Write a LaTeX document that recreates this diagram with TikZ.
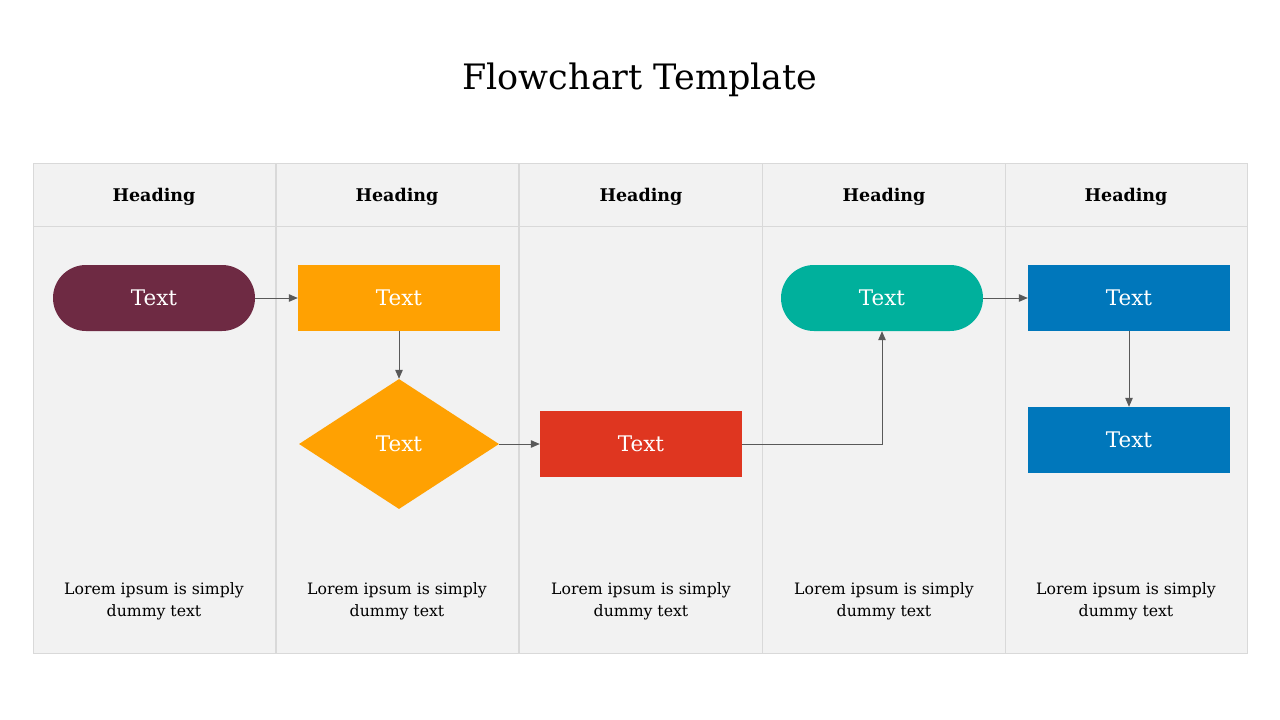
\documentclass[tikz,border=0pt]{standalone}
\usepackage{fontspec}
\setmainfont{DejaVu Serif}
\usetikzlibrary{shapes.geometric,arrows.meta}
\definecolor{cellbg}{HTML}{F2F2F2}
\definecolor{cellline}{HTML}{D9D9D9}
\definecolor{cmaroon}{HTML}{6E2A43}
\definecolor{corange}{HTML}{FFA102}
\definecolor{cred}{HTML}{DF3620}
\definecolor{cteal}{HTML}{00B09C}
\definecolor{cblue}{HTML}{0077BB}
\definecolor{arr}{HTML}{595959}
\tikzset{
  shp/.style={minimum width=202pt, minimum height=66pt, inner sep=0pt, text=white, font=\fontsize{21.5}{24}\selectfont},
  pill/.style={shp, rounded corners=33pt},
  box/.style={shp},
  dia/.style={shp, diamond, minimum width=200pt, minimum height=130pt},
  head/.style={font=\bfseries\fontsize{17.5}{20}\selectfont},
  lorem/.style={font=\fontsize{15.7}{22}\selectfont, align=center},
  conn/.style={draw=arr, line width=1pt, -{Triangle[length=9pt,width=7.5pt]}},
}
\begin{document}
\begin{tikzpicture}[x=1pt,y=-1pt]
\useasboundingbox (0,0) rectangle (1280,720);
\fill[white] (0,0) rectangle (1280,720);
\node[font=\fontsize{35}{40}\selectfont] (title) at (640,80) {Flowchart Template};
% table
\fill[cellbg] (33,163) rectangle (1247,653);
\draw[cellline, line width=1pt] (33,163) rectangle (1247,653);
\draw[cellline, line width=1pt] (33,226) -- (1247,226);
\draw[cellline, line width=2.5pt] (276,163) -- (276,653);
\draw[cellline, line width=2.5pt] (519,163) -- (519,653);
\draw[cellline, line width=1pt] (762,163) -- (762,653);
\draw[cellline, line width=1pt] (1005,163) -- (1005,653);
\node[head] (h1) at (154,197) {Heading};
\node[head] (h2) at (397,197) {Heading};
\node[head] (h3) at (641,197) {Heading};
\node[head] (h4) at (884,197) {Heading};
\node[head] (h5) at (1126,197) {Heading};
% shapes
\node[pill, fill=cmaroon] (a) at (154,298) {Text};
\node[box, fill=corange] (b) at (399,298) {Text};
\node[dia, fill=corange] (c) at (399,444) {Text};
\node[box, fill=cred] (d) at (641,444) {Text};
\node[pill, fill=cteal] (e) at (882,298) {Text};
\node[box, fill=cblue] (f) at (1129,298) {Text};
\node[box, fill=cblue] (g) at (1129,440) {Text};
% connectors
\draw[conn] (a) -- (b);
\draw[conn] (b) -- (c);
\draw[conn] (c) -- (d);
\draw[conn] (d.east) -| (e.south);
\draw[conn] (e) -- (f);
\draw[conn] (f) -- (g);
% lorem
\node[lorem] (l1) at (154,601) {Lorem ipsum is simply\\dummy text};
\node[lorem] (l2) at (397,601) {Lorem ipsum is simply\\dummy text};
\node[lorem] (l3) at (641,601) {Lorem ipsum is simply\\dummy text};
\node[lorem] (l4) at (884,601) {Lorem ipsum is simply\\dummy text};
\node[lorem] (l5) at (1126,601) {Lorem ipsum is simply\\dummy text};
\end{tikzpicture}
\end{document}
